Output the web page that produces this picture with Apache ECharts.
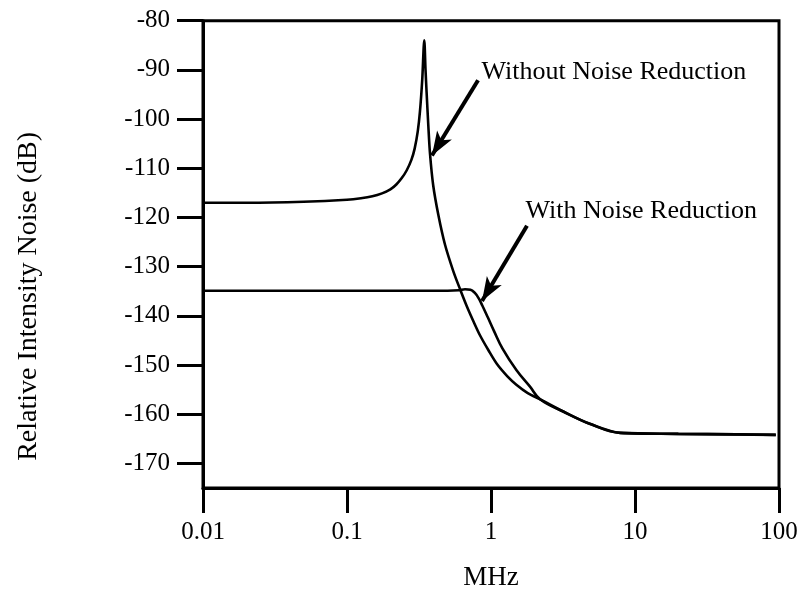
<!DOCTYPE html>
<html><head><meta charset="utf-8">
<script src="https://cdn.jsdelivr.net/npm/echarts@6/dist/echarts.min.js"></script>
<style>html,body{margin:0;padding:0;background:#fff}#c{width:797px;height:596px}</style>
</head><body><div id="c"></div>
<script>
// Frequency (MHz) and Relative Intensity Noise (dB)
const withoutFreq = [0.01, 0.02, 0.05, 0.1, 0.125, 0.15, 0.175, 0.2, 0.22, 0.24, 0.26, 0.28, 0.295, 0.31, 0.321, 0.333, 0.344, 0.351, 0.357, 0.367, 0.377, 0.397, 0.431, 0.479, 0.547, 0.61, 0.678, 0.76, 0.84, 0.96, 1.1, 1.3, 1.5, 1.8, 2.2, 3.2, 4.9, 7.9, 20, 50, 95];
const withoutRIN  = [-117, -117, -116.8, -116.4, -116.1, -115.7, -115.1, -114.3, -113.3, -112, -110.4, -108.3, -106, -102.5, -98.5, -92, -84, -90, -94.5, -101.3, -107, -113.5, -119.5, -125.5, -130.9, -134.6, -138, -141.3, -144, -147, -149.8, -152.3, -154, -155.7, -157, -159.5, -162, -163.8, -164, -164.1, -164.2];
const withFreq = [0.01, 0.1, 0.5, 0.6, 0.66, 0.72, 0.77, 0.82, 0.87, 0.95, 1.05, 1.2, 1.5, 1.866, 2.2, 3.2, 4.9, 7.9, 20, 50, 95];
const withRIN  = [-134.9, -134.9, -134.9, -134.8, -134.6, -134.7, -135.3, -136.4, -137.9, -140.3, -143.1, -146.6, -151, -154.4, -157, -159.5, -162, -163.8, -164, -164.1, -164.2];

const yTicks = [-170, -160, -150, -140, -130, -120, -110, -100, -90, -80];
const xTicks = [0.01, 0.1, 1, 10, 100];
const xTickLabels = ['0.01', '0.1', '1', '10', '100'];

// annotations (data coordinates)
const labelWithout = {text: 'Without Noise Reduction', at: [0.853, -90.5]};
const labelWith = {text: 'With Noise Reduction', at: [1.722, -118.8]};
const arrowWithout = [[0.813, -92.1], [0.389, -107.4]];
const arrowWith = [[1.778, -121.7], [0.866, -137]];

const FONT = '"Liberation Serif", "Times New Roman", serif';
const pair = (xs, ys) => xs.map((x, i) => [x, ys[i]]);

const chart = echarts.init(document.getElementById('c'), null, {renderer: 'canvas'});
chart.setOption({
  animation: false,
  backgroundColor: '#fff',
  grid: {left: 203, right: 18, top: 20.7, bottom: 108, show: true, borderColor: '#000', borderWidth: 3, containLabel: false, outerBoundsMode: 'none'},
  xAxis: {
    type: 'log', logBase: 10, min: 0.01, max: 100,
    name: 'MHz', nameLocation: 'middle', nameGap: 76,
    nameTextStyle: {fontFamily: FONT, fontSize: 27, color: '#000'},
    axisLine: {show: true, lineStyle: {color: '#000', width: 3}},
    axisTick: {show: true, inside: false, length: 25, lineStyle: {color: '#000', width: 3}},
    axisLabel: {
      margin: 32, fontFamily: FONT, fontSize: 25, color: '#000',
      formatter: v => { const i = xTicks.findIndex(t => Math.abs(Math.log10(t) - Math.log10(v)) < 1e-6); return i >= 0 ? xTickLabels[i] : ''; }
    },
    splitLine: {show: false}
  },
  yAxis: {
    type: 'value', min: -175, max: -80,
    name: 'Relative Intensity Noise (dB)', nameLocation: 'middle', nameGap: 160,
    nameTextStyle: {fontFamily: FONT, fontSize: 28, color: '#000', padding: [0, 84, 0, 0]},
    axisLine: {show: true, lineStyle: {color: '#000', width: 3}},
    axisTick: {show: true, inside: false, length: 26, customValues: yTicks, lineStyle: {color: '#000', width: 3}},
    axisLabel: {margin: 33, fontFamily: FONT, fontSize: 25, color: '#000', customValues: yTicks},
    splitLine: {show: false}
  },
  series: [
    {
      name: 'Without Noise Reduction', type: 'line', data: pair(withoutFreq, withoutRIN),
      showSymbol: false, smooth: 0.3, lineStyle: {color: '#000', width: 2.6}, silent: true,
      markLine: {
        silent: true, symbol: ['none', 'arrow'], symbolSize: [13, 24],
        lineStyle: {color: '#000', width: 4, type: 'solid'}, label: {show: false},
        data: [[{coord: arrowWithout[0]}, {coord: arrowWithout[1]}]]
      },
      markPoint: {
        silent: true, symbol: 'circle', symbolSize: 1, itemStyle: {color: 'rgba(0,0,0,0)'},
        label: {show: true, position: 'right', distance: 0, fontFamily: FONT, fontSize: 26, color: '#000', formatter: p => p.name},
        data: [{name: labelWithout.text, coord: labelWithout.at}]
      }
    },
    {
      name: 'With Noise Reduction', type: 'line', data: pair(withFreq, withRIN),
      showSymbol: false, smooth: 0.4, lineStyle: {color: '#000', width: 2.6}, silent: true,
      markLine: {
        silent: true, symbol: ['none', 'arrow'], symbolSize: [13, 24],
        lineStyle: {color: '#000', width: 4, type: 'solid'}, label: {show: false},
        data: [[{coord: arrowWith[0]}, {coord: arrowWith[1]}]]
      },
      markPoint: {
        silent: true, symbol: 'circle', symbolSize: 1, itemStyle: {color: 'rgba(0,0,0,0)'},
        label: {show: true, position: 'right', distance: 0, fontFamily: FONT, fontSize: 26, color: '#000', formatter: p => p.name},
        data: [{name: labelWith.text, coord: labelWith.at}]
      }
    }
  ]
});
</script>
</body></html>
